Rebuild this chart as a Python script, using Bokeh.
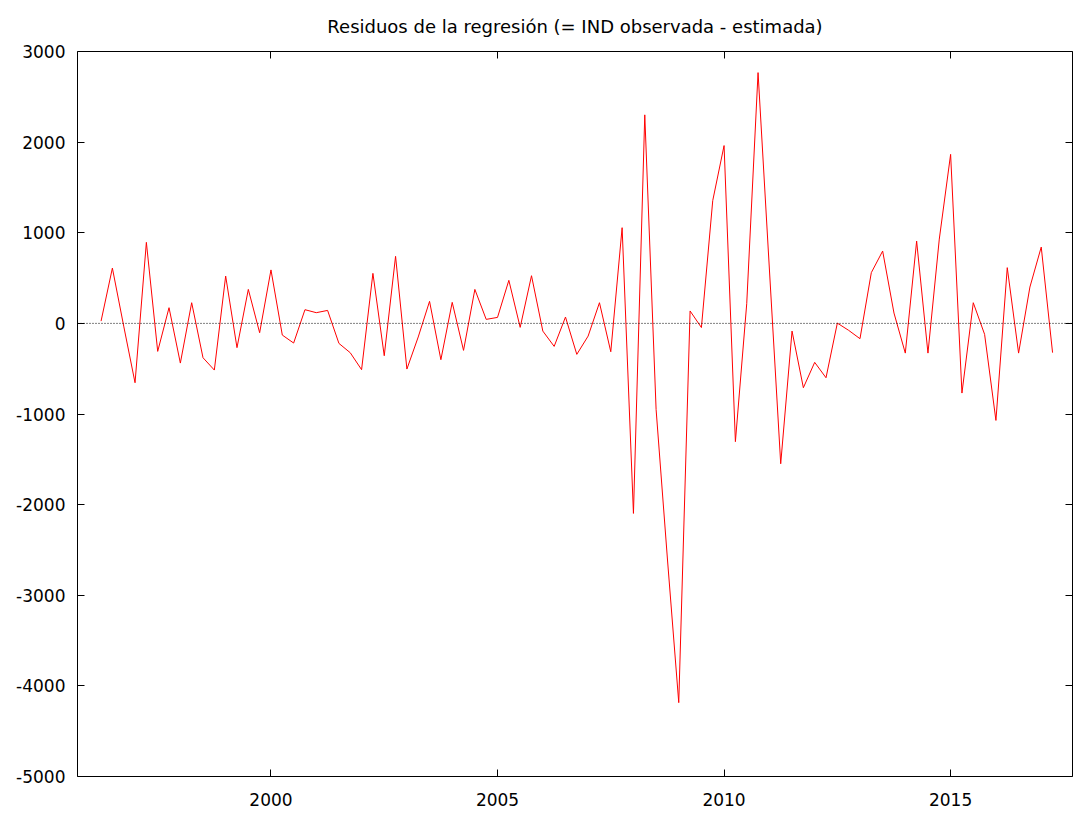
from bokeh.plotting import figure
from bokeh.models import Range1d, FixedTicker, LinearAxis, Span, ColumnDataSource
from bokeh.embed import file_html
from bokeh.resources import INLINE

# Quarterly residuals, 1996Q2 .. 2017Q2
start_year = 1996.25
residuals = [
    25, 610, -30, -655, 894, -309, 173, -438, 228, -379,
    -515, 522, -268, 375, -103, 590, -129, -217, 151, 118,
    143, -221, -324, -511, 552, -357, 740, -504, -150, 243,
    -401, 232, -298, 375, 44, 66, 475, -44, 526, -85,
    -254, 70, -342, -140, 228, -313, 1056, -2097, 2301, -950,
    -2600, -4185, 137, -46, 1355, 1962, -1305, 217, 2767, 600,
    -1549, -85, -710, -430, -600, 3, -77, -169, 560, 798,
    114, -328, 908, -328, 930, 1865, -769, 228, -121, -1071,
    615, -328, 401, 842, -323,
]
dates = [start_year + 0.25 * i for i in range(len(residuals))]

x_ticks = [2000, 2005, 2010, 2015]
y_ticks = [-5000, -4000, -3000, -2000, -1000, 0, 1000, 2000, 3000]
title_text = "Residuos de la regresión (= IND observada - estimada)"

FONT = "DejaVu Sans"

p = figure(width=1073, height=814, output_backend="svg", toolbar_location=None,
           x_range=Range1d(1995.73, 2017.69), y_range=Range1d(-5000, 3000),
           min_border_left=77, min_border_right=1, min_border_top=51, min_border_bottom=38,
           title=title_text)
p.title.text_font = FONT
p.title.text_font_size = "18px"
p.title.text_font_style = "normal"
p.title.align = "center"
p.title.vertical_align = "top"
p.title.text_color = "black"
p.title.standoff = 26

p.grid.visible = False
p.outline_line_color = "black"
p.outline_line_width = 1
p.background_fill_color = "white"
p.border_fill_color = "white"

for ax in (p.xaxis[0], p.yaxis[0]):
    ax.major_tick_in = 7
    ax.major_tick_out = 0
    ax.minor_tick_line_color = None
    ax.axis_line_color = None
    ax.major_tick_line_color = "black"
    ax.major_label_text_font = FONT
    ax.major_label_text_font_size = "17px"
    ax.major_label_text_color = "black"
p.xaxis[0].ticker = FixedTicker(ticks=x_ticks)
p.yaxis[0].ticker = FixedTicker(ticks=y_ticks)
p.xaxis[0].major_label_overrides = {t: str(t) for t in x_ticks}
p.yaxis[0].major_label_overrides = {t: str(t) for t in y_ticks}
p.xaxis[0].major_label_standoff = 16
p.yaxis[0].major_label_standoff = 12

for side, ticks in (("right", y_ticks), ("above", x_ticks)):
    ax = LinearAxis(ticker=FixedTicker(ticks=ticks))
    ax.major_tick_in = 7
    ax.major_tick_out = 0
    ax.minor_tick_line_color = None
    ax.axis_line_color = None
    ax.major_tick_line_color = "black"
    ax.major_label_overrides = {t: "" for t in ticks}
    ax.major_label_text_color = None
    ax.major_label_standoff = 0
    p.add_layout(ax, side)

zero = Span(location=0, dimension="width", line_color="black", line_width=1, line_dash="1 2")
p.add_layout(zero)

src = ColumnDataSource(dict(x=dates, y=residuals))
p.line("x", "y", source=src, line_color="#ff0000", line_width=1)

open("out.html", "w").write(file_html(p, INLINE))
